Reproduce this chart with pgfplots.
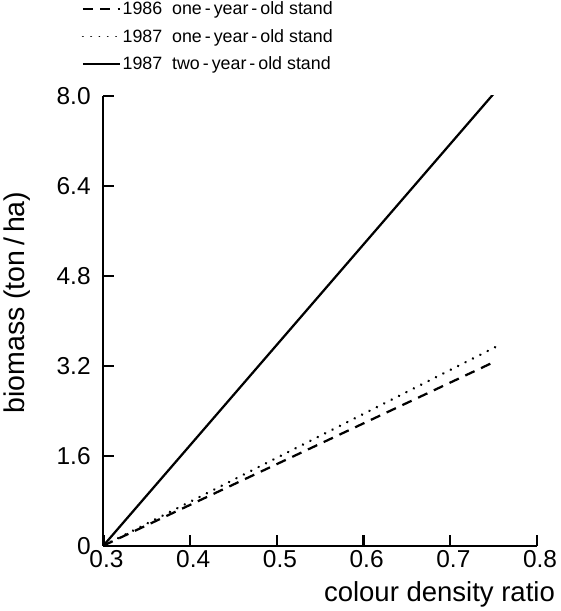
\documentclass[border=0pt]{standalone}
\usepackage{pgfplots}
\pgfplotsset{compat=1.18}
\usepackage{fontspec}
\setmainfont{Liberation Sans}

\begin{document}
\begin{tikzpicture}
\begin{axis}[
    scale only axis,
    width=424bp,
    height=440bp,
    xmin=0.3, xmax=0.8,
    ymin=0, ymax=8,
    axis x line=bottom,
    axis y line=left,
    axis line style={-, line width=2pt},
    tick align=inside,
    major tick length=10bp,
    every tick/.style={black, line width=2.2pt},
    xtick={0.3,0.4,0.5,0.6,0.7,0.8},
    xticklabels={0.3,0.4,0.5,0.6,0.7,0.8},
    ytick={0,1.6,3.2,4.8,6.4,8},
    yticklabels={0,1.6,3.2,4.8,6.4,8.0},
    /pgf/number format/assume math mode=true,
    ticklabel style={font=\fontsize{24}{28}\selectfont},
    xticklabel style={xshift=3bp, yshift=-1bp},
    yticklabel style={xshift=-9bp},
    xlabel={colour density ratio},
    xlabel style={font=\fontsize{27}{31}\selectfont, at={(axis description cs:1,0)}, anchor=north east, xshift=21bp, yshift=-32bp},
    ylabel={biomass (ton\,/\,ha)},
    ylabel style={font=\fontsize{28}{32}\selectfont, at={(axis description cs:-0.2,0.54)}, anchor=center, rotate=0},
    legend style={at={(axis description cs:-0.05,1.05)}, anchor=south west, draw=none, fill=none,
        font=\fontsize{17.5}{21}\selectfont, row sep=8.5bp, inner sep=0pt},
    legend cell align=left,
    legend image code/.code={\draw[#1, line width=1.8pt] (0bp,0bp) -- (36bp,0bp);},
]
\addplot[black, line width=2.2pt, dash pattern=on 10bp off 7bp] coordinates {
    (0.3,0) (0.747,3.24)
};
\addlegendentry{1986\ \ one\,-\,year\,-\,old\ stand}
\addplot[black, line width=2.6pt, dash pattern=on 0.1pt off 8bp, line cap=round] coordinates {
    (0.3,0) (0.752,3.53)
};
\addlegendentry{1987\ \ one\,-\,year\,-\,old\ stand}
\addplot[black, line width=2.2pt] coordinates {
    (0.3,0) (0.752,8.07)
};
\addlegendentry{1987\ \ two\,-\,year\,-\,old\ stand}
\end{axis}
\end{tikzpicture}
\end{document}
